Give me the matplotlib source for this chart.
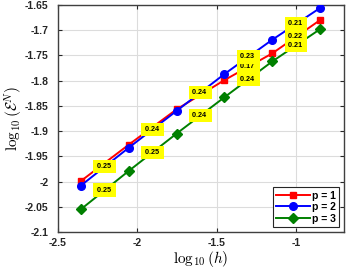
import matplotlib
matplotlib.use("Agg")
import matplotlib.pyplot as plt
from matplotlib.ticker import FuncFormatter
import numpy as np

plt.rcParams['mathtext.fontset'] = 'cm'
plt.rcParams['font.family'] = ['Liberation Sans', 'DejaVu Sans']

# data
log_h = [-2.356, -2.055, -1.754, -1.453, -1.152, -0.851]
err_p1 = [-1.999, -1.927, -1.857, -1.799, -1.746, -1.680]
err_p2 = [-2.008, -1.933, -1.860, -1.787, -1.719, -1.656]
err_p3 = [-2.055, -1.979, -1.905, -1.833, -1.762, -1.698]
rates_p1 = [None, None, None, '0.17', '0.22']
rates_p2 = ['0.25', '0.24', '0.24', '0.23', '0.21']
rates_p3 = ['0.25', '0.25', '0.24', '0.24', '0.21']
series_names = ['p = 1', 'p = 2', 'p = 3']
xticks = [-2.5, -2, -1.5, -1]
yticks = [-2.1, -2.05, -2, -1.95, -1.9, -1.85, -1.8, -1.75, -1.7, -1.65]

fig = plt.figure(figsize=(3.46, 2.69), dpi=100)
ax = fig.add_axes([58/346, 37/269, 286/346, 227/269])

styles = [dict(color='#ff0000', marker='s', ms=4.8),
          dict(color='#0000ff', marker='o', ms=5.5),
          dict(color='#008000', marker='D', ms=4.8)]
errs = [err_p1, err_p2, err_p3]
rates = [rates_p1, rates_p2, rates_p3]

for name, e, st in zip(series_names, errs, styles):
    ax.plot(log_h, e, lw=1.4, label=name, zorder=3, **st)

for e, r in zip(errs, rates):
    for i, lab in enumerate(r):
        if lab is None:
            continue
        xm = 0.5 * (log_h[i] + log_h[i + 1])
        ym = 0.5 * (e[i] + e[i + 1])
        ax.text(xm, ym, lab + ' ', fontsize=5.2, fontweight='bold', ha='center', va='center',
                zorder=5,
                bbox=dict(boxstyle='square,pad=0.45', fc='#ffff00', ec='none'))

ax.set_xlim(-2.5, -0.7)
ax.set_ylim(-2.1, -1.65)
ax.set_xticks(xticks)
ax.set_yticks(yticks)
fmt = FuncFormatter(lambda v, p: '%g' % v)
ax.xaxis.set_major_formatter(fmt)
ax.yaxis.set_major_formatter(fmt)
ax.tick_params(direction='in', length=3, width=0.8, top=True, right=True,
               labelsize=7.5, colors='#262626')
ax.tick_params(axis='y', pad=7)
ax.tick_params(axis='x', pad=4)
for lab in ax.get_xticklabels() + ax.get_yticklabels():
    lab.set_fontweight('bold')
ax.grid(True, color='#dcdcdc', lw=0.8)
ax.set_axisbelow(True)
for s in ax.spines.values():
    s.set_color('#404040')
    s.set_linewidth(1.0)

ax.set_xlabel(r'$\log_{10}(h)$', fontsize=11, labelpad=1)
ax.set_ylabel(r'$\log_{10}(\mathcal{E}^N)$', fontsize=11, labelpad=0)

leg = ax.legend(loc='lower right', prop={'weight': 'bold', 'size': 7.5},
                frameon=True, fancybox=False, edgecolor='#262626', framealpha=1,
                handlelength=3.2, handletextpad=0.2, borderpad=0.3, labelspacing=0.15,
                borderaxespad=0.5)
leg.get_frame().set_linewidth(0.8)

fig.savefig('out.png', dpi=100)
